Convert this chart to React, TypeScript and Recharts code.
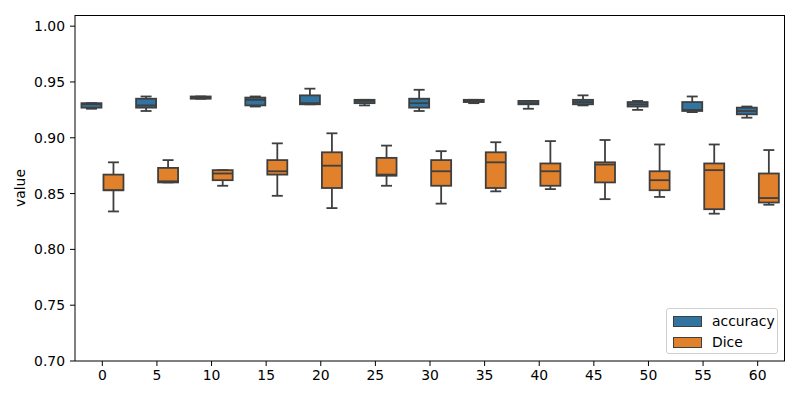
import React from 'react';
import { ComposedChart, Bar, XAxis, YAxis } from 'recharts';

// categories on the x axis
const categories = ['0', '5', '10', '15', '20', '25', '30', '35', '40', '45', '50', '55', '60'];

// box stats per category: [whisker low, q1, median, q3, whisker high]
const accuracyBoxes = [
  [0.926, 0.927, 0.930, 0.931, 0.931],
  [0.924, 0.927, 0.929, 0.935, 0.937],
  [0.935, 0.935, 0.936, 0.937, 0.937],
  [0.928, 0.929, 0.934, 0.936, 0.937],
  [0.930, 0.930, 0.931, 0.938, 0.944],
  [0.929, 0.931, 0.933, 0.934, 0.934],
  [0.924, 0.927, 0.931, 0.935, 0.943],
  [0.931, 0.932, 0.933, 0.934, 0.934],
  [0.926, 0.930, 0.931, 0.933, 0.933],
  [0.929, 0.930, 0.932, 0.934, 0.938],
  [0.925, 0.928, 0.930, 0.932, 0.933],
  [0.923, 0.924, 0.925, 0.932, 0.937],
  [0.918, 0.921, 0.924, 0.927, 0.928],
];

const diceBoxes = [
  [0.834, 0.853, 0.853, 0.867, 0.878],
  [0.860, 0.860, 0.861, 0.873, 0.880],
  [0.857, 0.862, 0.868, 0.871, 0.871],
  [0.848, 0.867, 0.870, 0.880, 0.895],
  [0.837, 0.855, 0.875, 0.887, 0.904],
  [0.857, 0.866, 0.867, 0.882, 0.893],
  [0.841, 0.857, 0.870, 0.880, 0.888],
  [0.852, 0.855, 0.878, 0.887, 0.896],
  [0.854, 0.857, 0.870, 0.877, 0.897],
  [0.845, 0.860, 0.876, 0.878, 0.898],
  [0.847, 0.853, 0.862, 0.870, 0.894],
  [0.832, 0.836, 0.871, 0.877, 0.894],
  [0.840, 0.842, 0.846, 0.868, 0.889],
];

const yTicks = [0.7, 0.75, 0.8, 0.85, 0.9, 0.95, 1.0];

const series = [
  { key: 'accuracy', name: 'accuracy', color: '#3274a1' },
  { key: 'dice', name: 'Dice', color: '#e1812c' },
];

const data = categories.map((cat, i) => ({
  cat,
  accuracy: accuracyBoxes[i],
  dice: diceBoxes[i],
}));

const LINE = '#3f3f3f';
const FONT = '"DejaVu Sans", sans-serif';

function makeBoxShape(key: string, fill: string) {
  return (props: any) => {
    const { x, y, width, height, payload } = props;
    const [lo, q1, med, q3, hi] = payload[key];
    const span = hi - lo;
    const py = (v: number) => (span > 0 ? y + ((hi - v) / span) * height : y);
    const cx = x + width / 2;
    const cap = width / 4;
    const bx = x + 1;
    const bw = width - 2;
    return (
      <g>
        <line x1={cx} x2={cx} y1={py(hi)} y2={py(q3)} stroke={LINE} strokeWidth={1.8} />
        <line x1={cx} x2={cx} y1={py(q1)} y2={py(lo)} stroke={LINE} strokeWidth={1.8} />
        <line x1={cx - cap} x2={cx + cap} y1={py(hi)} y2={py(hi)} stroke={LINE} strokeWidth={1.8} />
        <line x1={cx - cap} x2={cx + cap} y1={py(lo)} y2={py(lo)} stroke={LINE} strokeWidth={1.8} />
        <rect x={bx} y={py(q3)} width={bw} height={Math.max(py(q1) - py(q3), 0.01)} fill={fill} stroke={LINE} strokeWidth={1.8} />
        <line x1={bx} x2={bx + bw} y1={py(med)} y2={py(med)} stroke={LINE} strokeWidth={1.8} />
      </g>
    );
  };
}

const YLabel = (props: any) => {
  const vb = props.viewBox || { x: 0, y: 15, width: 75, height: 346 };
  const cy = vb.y + vb.height / 2;
  return (
    <text x={20} y={cy} transform={`rotate(-90 20 ${cy})`} textAnchor="middle" dominantBaseline="central"
      fontFamily={FONT} fontSize={13.9} fill="#000">
      value
    </text>
  );
};

export default function App() {
  return (
    <div style={{ position: 'absolute', left: 0, top: 0, width: 800, height: 400, background: '#fff' }}>
      <ComposedChart
        width={800}
        height={400}
        data={data}
        margin={{ top: 15, right: 15, left: 0, bottom: 0 }}
        barCategoryGap="10%"
        barGap={0}
      >
        <XAxis
          dataKey="cat"
          height={39}
          stroke="#000"
          tickLine={{ stroke: '#000' }}
          tickSize={5}
          tickMargin={4}
          tick={{ fill: '#000', fontSize: 13.9, fontFamily: FONT }}
          interval={0}
        />
        <YAxis
          type="number"
          domain={[0.7, 1.01]}
          ticks={yTicks}
          width={75}
          stroke="#000"
          tickSize={5}
          tickMargin={5}
          tick={{ fill: '#000', fontSize: 13.9, fontFamily: FONT }}
          tickFormatter={(v: number) => v.toFixed(2)}
          allowDataOverflow
          label={<YLabel />}
        />
        {series.map((s) => (
          <Bar
            key={s.key}
            name={s.name}
            dataKey={(d: any) => [d[s.key][0], d[s.key][4]]}
            fill={s.color}
            isAnimationActive={false}
            shape={makeBoxShape(s.key, s.color)}
          />
        ))}
      </ComposedChart>
      {/* axes frame (top and right spines) */}
      <div
        style={{
          position: 'absolute',
          left: 75,
          top: 15,
          width: 710,
          height: 346,
          boxSizing: 'border-box',
          borderTop: '1px solid #000',
          borderRight: '1px solid #000',
          pointerEvents: 'none',
        }}
      />
      <div
        style={{
          position: 'absolute',
          left: 666,
          top: 308,
          width: 110,
          height: 44,
          border: '1px solid #d0d0d0',
          borderRadius: 3,
          background: 'rgba(255,255,255,0.8)',
          fontFamily: FONT,
          fontSize: 13.9,
          color: '#000',
        }}
      >
        {series.map((s, i) => (
          <div key={s.key} style={{ position: 'absolute', left: 6, top: 6 + i * 21, display: 'flex', alignItems: 'center', height: 12 }}>
            <div style={{ width: 27, height: 9, background: s.color, border: `1px solid ${LINE}` }} />
            <span style={{ marginLeft: 10, lineHeight: '12px' }}>{s.name}</span>
          </div>
        ))}
      </div>
    </div>
  );
}
